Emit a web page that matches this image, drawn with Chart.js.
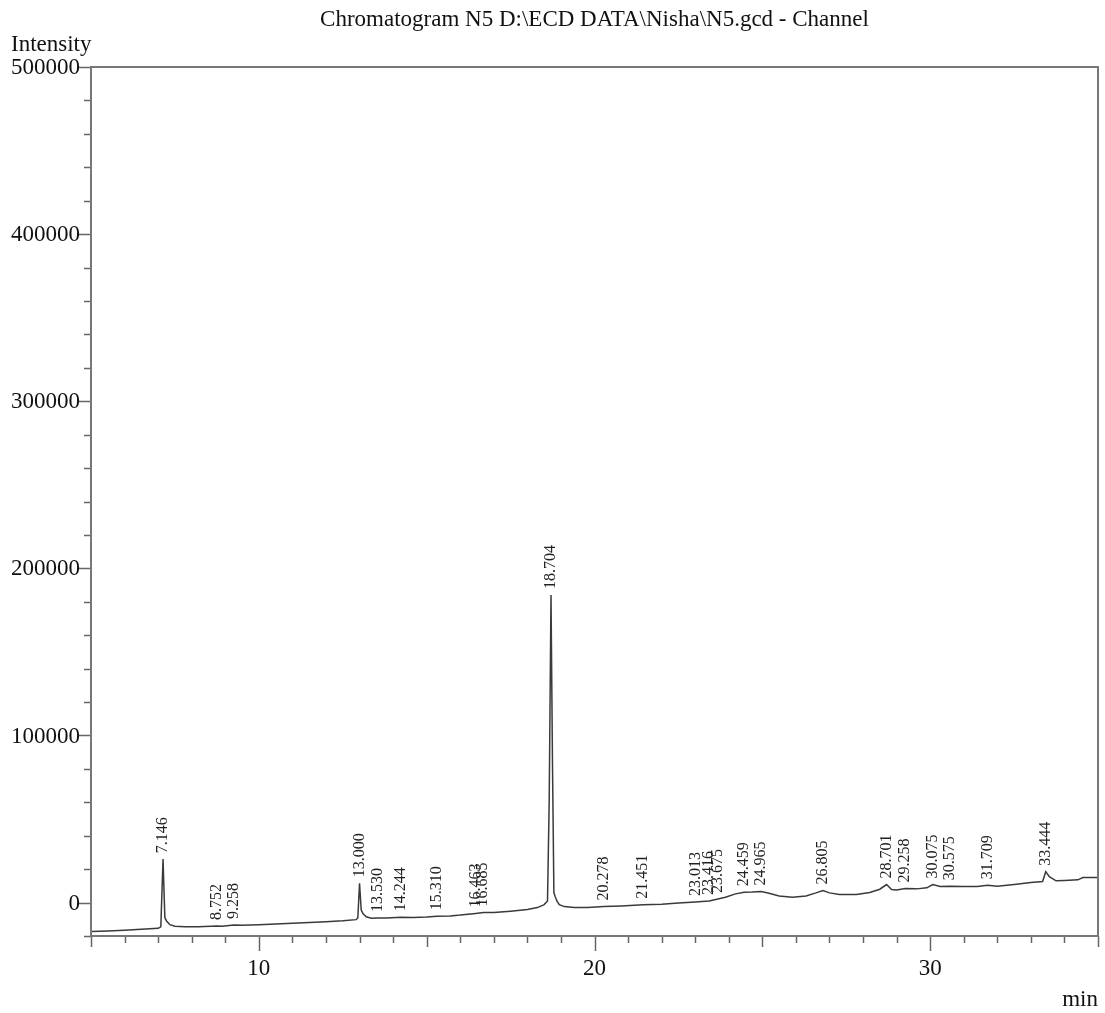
<!DOCTYPE html>
<html>
<head>
<meta charset="utf-8">
<script src="https://cdn.jsdelivr.net/npm/chart.js@4/dist/chart.umd.min.js"></script>
<style>
  html, body { margin: 0; padding: 0; background: #fff; }
</style>
</head>
<body>
<canvas id="chromChart" width="1105" height="1013"></canvas>
<script>
// retention time (min) and detector signal
const timeMin = [5.0, 5.5, 6.0, 6.5, 7.0, 7.08, 7.146, 7.2, 7.25, 7.35, 7.5, 7.8, 8.2, 8.752, 8.9, 9.258, 9.5, 10.0, 10.5, 11.0, 11.5, 12.0, 12.5, 12.9, 12.95, 13.0, 13.05, 13.1, 13.2, 13.35, 13.53, 13.8, 14.244, 14.6, 15.0, 15.31, 15.7, 16.0, 16.463, 16.685, 17.0, 17.5, 18.0, 18.3, 18.5, 18.6, 18.65, 18.704, 18.75, 18.79, 18.83, 18.88, 18.95, 19.1, 19.4, 19.8, 20.278, 20.8, 21.451, 22.0, 22.5, 23.013, 23.2, 23.416, 23.675, 23.9, 24.2, 24.459, 24.7, 24.965, 25.2, 25.5, 25.9, 26.3, 26.6, 26.805, 27.0, 27.3, 27.8, 28.2, 28.5, 28.701, 28.85, 29.0, 29.258, 29.6, 29.9, 30.075, 30.3, 30.575, 31.0, 31.4, 31.709, 32.0, 32.5, 33.0, 33.35, 33.444, 33.55, 33.75, 34.0, 34.4, 34.55, 35.0];
const intensity = [-17300, -17000, -16500, -16000, -15400, -14500, 26000, -9000, -11000, -13200, -14200, -14500, -14400, -14000, -14200, -13400, -13600, -13200, -12800, -12300, -11900, -11500, -10900, -10200, -9000, 11500, -4500, -6500, -8500, -9400, -9200, -9300, -8800, -8900, -8600, -8200, -8000, -7500, -6500, -6000, -6000, -5200, -4200, -3000, -1200, 1000, 60000, 184000, 80000, 6000, 3500, 1000, -1200, -2400, -3000, -3000, -2400, -2000, -1300, -1000, -300, 300, 600, 1000, 2200, 3200, 5200, 6200, 6300, 6600, 5600, 4000, 3200, 4000, 5800, 7200, 5800, 4800, 4800, 6000, 8000, 10800, 7800, 7500, 8400, 8200, 8800, 10800, 9600, 9800, 9600, 9600, 10400, 9800, 10800, 12000, 12600, 18500, 15500, 13000, 13200, 13600, 15000, 15000];

// peak retention times printed above the trace
const peakTimes = [7.146, 8.752, 9.258, 13.000, 13.530, 14.244, 15.310, 16.463, 16.685, 18.704, 20.278, 21.451, 23.013, 23.416, 23.675, 24.459, 24.965, 26.805, 28.701, 29.258, 30.075, 30.575, 31.709, 33.444];
const peakLabels = ['7.146', '8.752', '9.258', '13.000', '13.530', '14.244', '15.310', '16.463', '16.685', '18.704', '20.278', '21.451', '23.013', '23.416', '23.675', '24.459', '24.965', '26.805', '28.701', '29.258', '30.075', '30.575', '31.709', '33.444'];

const yTickLabels = ['0', '100000', '200000', '300000', '400000', '500000'];
const xTickLabels = ['10', '20', '30'];

const chartTitle = 'Chromatogram N5 D:\\ECD DATA\\Nisha\\N5.gcd - Channel';
const yTitle = 'Intensity';
const xTitle = 'min';

const points = timeMin.map((t, i) => ({ x: t, y: intensity[i] }));

function signalAt(t) {
  for (let i = 0; i < timeMin.length - 1; i++) {
    if (t >= timeMin[i] && t <= timeMin[i + 1]) {
      let f = (t - timeMin[i]) / (timeMin[i + 1] - timeMin[i]);
      return intensity[i] + f * (intensity[i + 1] - intensity[i]);
    }
  }
  return intensity[intensity.length - 1];
}

const serif = '"Liberation Serif", "Times New Roman", serif';

// draws frame, ticks, labels and peak annotations like the instrument software
const frame = {
  id: 'frame',
  afterDraw(chart) {
    const c = chart.ctx;
    const a = chart.chartArea;
    const xs = chart.scales.x;
    const ys = chart.scales.y;
    c.save();

    // ticks
    c.strokeStyle = '#666';
    c.lineWidth = 1.5;
    for (let v = -20000; v <= 500000; v += 20000) {
      let py = Math.round(ys.getPixelForValue(v)) + 0.5;
      let len = v % 100000 === 0 ? 13 : 7;
      c.beginPath();
      c.moveTo(a.left - len, py);
      c.lineTo(a.left, py);
      c.stroke();
    }
    for (let t = 5; t <= 35; t++) {
      let px = Math.round(xs.getPixelForValue(t)) + 0.5;
      let len = t % 10 === 0 ? 15 : (t % 5 === 0 ? 11 : 7);
      c.beginPath();
      c.moveTo(px, a.bottom);
      c.lineTo(px, a.bottom + len);
      c.stroke();
    }

    // frame
    c.strokeStyle = '#777';
    c.lineWidth = 2;
    c.strokeRect(a.left, a.top, a.right - a.left, a.bottom - a.top);

    // tick labels
    c.fillStyle = '#111';
    c.font = '23px ' + serif;
    c.textAlign = 'right';
    c.textBaseline = 'middle';
    yTickLabels.forEach(lbl => {
      c.fillText(lbl, a.left - 11, ys.getPixelForValue(Number(lbl)) + 1);
    });
    c.textAlign = 'center';
    c.textBaseline = 'top';
    xTickLabels.forEach(lbl => {
      c.fillText(lbl, xs.getPixelForValue(Number(lbl)), a.bottom + 21);
    });

    // axis titles
    c.textAlign = 'left';
    c.textBaseline = 'middle';
    c.fillText(yTitle, 11, 45);
    c.textAlign = 'right';
    c.fillText(xTitle, a.right, 1000);

    // chart title
    c.font = '23px ' + serif;
    c.textAlign = 'center';
    c.fillText(chartTitle, (a.left + a.right) / 2, 20);

    // peak labels, rotated
    c.font = '16px ' + serif;
    c.fillStyle = '#222';
    c.textAlign = 'left';
    c.textBaseline = 'middle';
    peakTimes.forEach((t, i) => {
      let px = xs.getPixelForValue(t);
      let py = ys.getPixelForValue(signalAt(t)) - 6;
      c.save();
      c.translate(px, py);
      c.rotate(-Math.PI / 2);
      c.fillText(peakLabels[i], 0, 0);
      c.restore();
    });

    c.restore();
  }
};

let ctx = document.getElementById('chromChart');
let chromChart = new Chart(ctx, {
  type: 'line',
  data: {
    datasets: [{
      data: points,
      borderColor: '#3a3a3a',
      borderWidth: 1.5,
      pointRadius: 0,
      tension: 0,
      fill: false
    }]
  },
  options: {
    responsive: false,
    animation: false,
    layout: {
      padding: { left: 91, top: 67, right: 7, bottom: 77 }
    },
    plugins: {
      legend: { display: false },
      tooltip: { enabled: false }
    },
    scales: {
      x: { type: 'linear', min: 5, max: 35, display: false },
      y: { type: 'linear', min: -20000, max: 500000, display: false }
    }
  },
  plugins: [frame]
});
</script>
</body>
</html>
